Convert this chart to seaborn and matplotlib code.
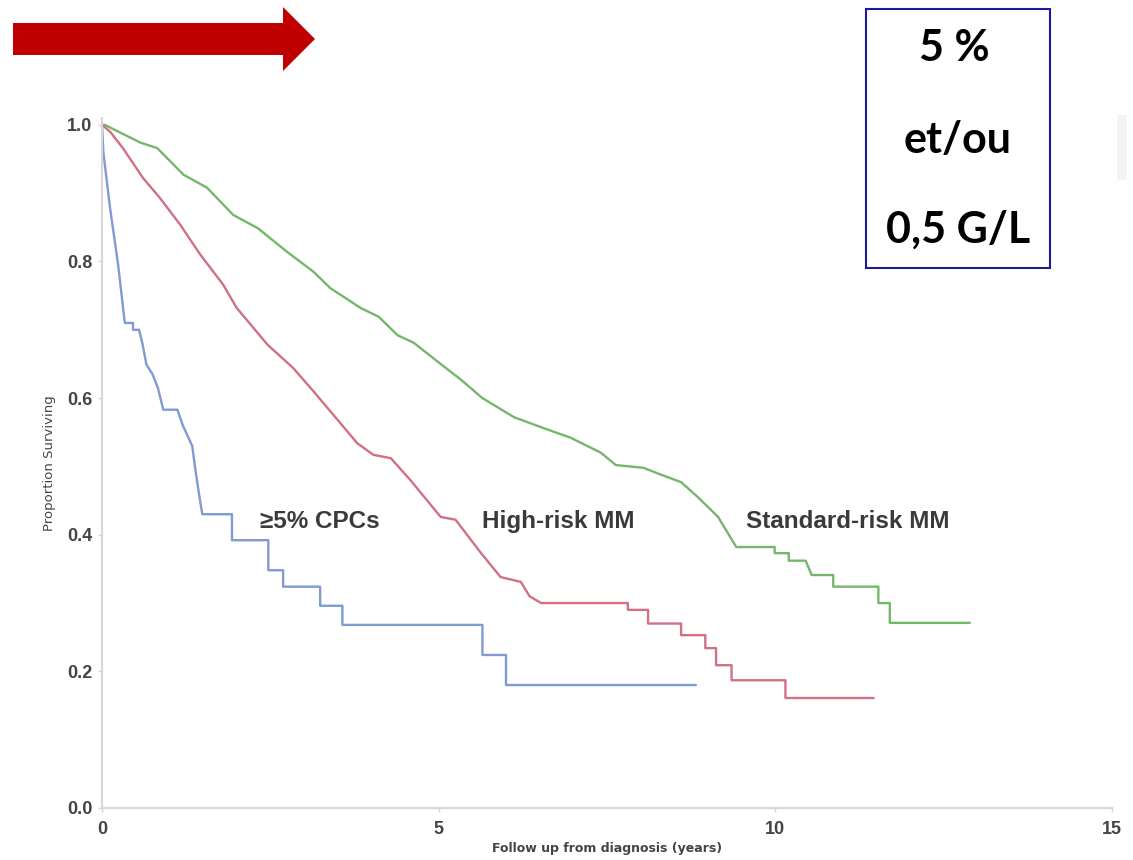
import numpy as np
import pandas as pd
import matplotlib
matplotlib.use("Agg")
import matplotlib.pyplot as plt
from matplotlib.patches import FancyArrow, Rectangle
import seaborn as sns

# ---- data (Kaplan-Meier curve vertices) ----
std_time = [0, 0.04, 0.57, 0.82, 1.21, 1.56, 1.95, 2.31, 2.75, 3.14, 3.39, 3.84, 4.11,
            4.39, 4.63, 4.99, 5.33, 5.65, 6.12, 6.56, 6.96, 7.41, 7.63, 8.04, 8.30,
            8.60, 8.85, 9.15, 9.42, 9.99, 9.99, 10.20, 10.20, 10.45, 10.54, 10.86,
            10.86, 11.53, 11.53, 11.70, 11.70, 12.89]
std_surv = [1.0, 1.0, 0.974, 0.966, 0.927, 0.908, 0.868, 0.849, 0.814, 0.785, 0.761, 0.732,
            0.719, 0.692, 0.681, 0.653, 0.627, 0.600, 0.572, 0.556, 0.542, 0.520, 0.502,
            0.498, 0.488, 0.477, 0.455, 0.426, 0.382, 0.382, 0.373, 0.373, 0.362, 0.362,
            0.341, 0.341, 0.324, 0.324, 0.300, 0.300, 0.271, 0.271]

high_time = [0, 0.12, 0.31, 0.61, 0.86, 1.16, 1.46, 1.80, 2.00, 2.46, 2.84, 3.14, 3.50,
             3.79, 4.03, 4.29, 4.58, 5.03, 5.25, 5.63, 5.92, 6.22, 6.35, 6.52, 7.81, 7.81,
             8.11, 8.11, 8.60, 8.60, 8.96, 8.96, 9.12, 9.12, 9.35, 9.35, 10.15, 10.15, 11.46]
high_surv = [1.0, 0.99, 0.966, 0.922, 0.893, 0.854, 0.810, 0.766, 0.732, 0.678, 0.644,
             0.610, 0.568, 0.534, 0.517, 0.512, 0.480, 0.426, 0.422, 0.373, 0.338, 0.331,
             0.310, 0.300, 0.300, 0.290, 0.290, 0.270, 0.270, 0.253, 0.253, 0.234, 0.234,
             0.209, 0.209, 0.187, 0.187, 0.161, 0.161]

cpc_time = [0, 0.02, 0.12, 0.24, 0.33, 0.34, 0.46, 0.46, 0.55, 0.60, 0.66, 0.75, 0.83,
            0.91, 1.12, 1.20, 1.34, 1.38, 1.44, 1.49, 1.93, 1.93, 2.47, 2.47, 2.69, 2.69,
            3.24, 3.24, 3.57, 3.57, 5.65, 5.65, 6.00, 6.00, 8.82]
cpc_surv = [1.0, 0.96, 0.878, 0.795, 0.717, 0.710, 0.710, 0.700, 0.700, 0.680, 0.649,
            0.635, 0.615, 0.583, 0.583, 0.560, 0.530, 0.500, 0.460, 0.430, 0.430, 0.392,
            0.392, 0.348, 0.348, 0.324, 0.324, 0.296, 0.296, 0.268, 0.268, 0.224, 0.224,
            0.180, 0.180]

group_names = ["Standard-risk MM", "High-risk MM", "\u22655% CPCs"]
label_x = [11.07, 6.77, 3.24]
label_y = [0.419, 0.419, 0.419]
x_ticks = [0, 5, 10, 15]
y_ticks = [0.0, 0.2, 0.4, 0.6, 0.8, 1.0]
box_lines = ["5 %", "et/ou", "0,5 G/L"]

colors = {"Standard-risk MM": "#74b76b", "High-risk MM": "#d07083", "\u22655% CPCs": "#7f9bd2"}

sns.set_theme(style="white")
plt.rcParams["font.family"] = ["Liberation Sans", "DejaVu Sans"]

W, H = 1133, 860
fig = plt.figure(figsize=(W / 100, H / 100), dpi=100)
ax = fig.add_axes([102 / W, (860 - 808) / H, (1112 - 102) / W, (808 - 118) / H])

series = [(std_time, std_surv), (high_time, high_surv), (cpc_time, cpc_surv)]
for name, (t, s) in zip(group_names, series):
    df = pd.DataFrame({"time": t, "surv": s})
    sns.lineplot(data=df, x="time", y="surv", estimator=None, sort=False,
                 color=colors[name], linewidth=1.7, ax=ax)

for name, lx, ly in zip(group_names, label_x, label_y):
    ax.text(lx, ly, name, ha="center", va="center", fontsize=17.5,
            fontweight="bold", color="#3a3a3a")

ax.set_xlim(0, 15)
ax.set_ylim(0, 1.01)
ax.set_xticks(x_ticks)
ax.set_yticks(y_ticks)
ax.set_xticklabels([str(v) for v in x_ticks], fontsize=13, fontweight="bold", color="#444444")
ax.set_yticklabels([f"{v:.1f}" for v in y_ticks], fontsize=13, fontweight="bold", color="#444444")
ax.tick_params(axis="x", length=3, width=1, color="#d6d6d6", pad=6, bottom=True)
ax.tick_params(axis="y", length=3, width=1, color="#d6d6d6", pad=4, left=True)
ax.set_xlabel("Follow up from diagnosis (years)", fontsize=9, fontweight="bold",
              family=["DejaVu Sans"], color="#444444", labelpad=3)
ax.set_ylabel("Proportion Surviving", fontsize=9.5, family=["DejaVu Sans"],
              color="#444444", labelpad=8)
for side in ["top", "right"]:
    ax.spines[side].set_visible(False)
for side in ["left", "bottom"]:
    ax.spines[side].set_color("#d6d6d6")
    ax.spines[side].set_linewidth(1.5)

# red arrow (top left)
arrow = FancyArrow(13 / W, 1 - 39 / H, (315 - 13) / W, 0, width=32 / H,
                   head_width=64 / H, head_length=32 / W, length_includes_head=True,
                   transform=fig.transFigure, color="#c00000", linewidth=0)
fig.patches.append(arrow)

# boxed text (top right)
box = Rectangle((866 / W, 1 - 268 / H), (1050 - 866) / W, (268 - 9) / H,
                transform=fig.transFigure, fill=False, edgecolor="#1a1a9a", linewidth=1.5)
fig.patches.append(box)
for txt, xx, yy in zip(box_lines, [954, 958, 958], [48, 140, 230]):
    fig.text(xx / W, 1 - yy / H, txt, ha="center", va="center", fontsize=31,
             fontweight="bold", family=["Lato", "DejaVu Sans"], color="black")

# faint grey mark on the right edge
fig.patches.append(Rectangle((1117 / W, 1 - 180 / H), 10 / W, 65 / H,
                             transform=fig.transFigure, facecolor="#f4f4f4",
                             edgecolor="none"))

fig.savefig("out.png", dpi=100)
